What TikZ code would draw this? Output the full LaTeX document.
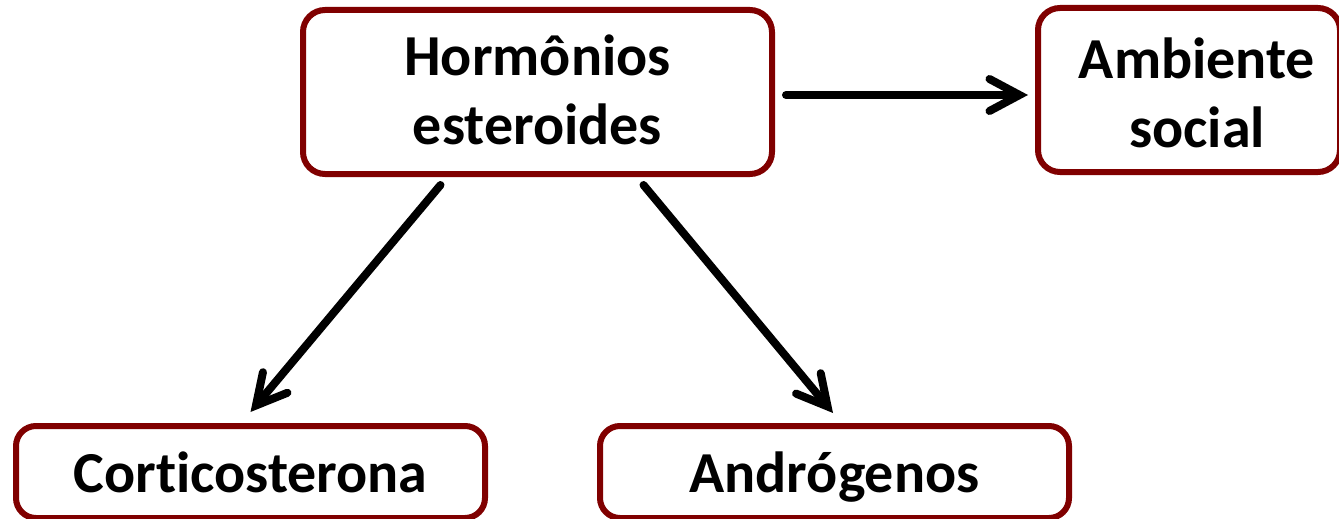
\documentclass[tikz,border=0pt]{standalone}
\usepackage{fontspec}
\setmainfont{Carlito}[Ligatures=NoCommon]
\usetikzlibrary{arrows.meta}
\definecolor{boxred}{RGB}{128,0,0}
\newcommand{\topst}[1]{\rule{0pt}{#1}}
\newcommand{\botst}[1]{\rule[-#1]{0pt}{#1}}
\tikzset{
  box/.style={draw=boxred, line width=6pt, rounded corners=22pt, fill=white,
    align=center, font=\fontsize{58}{69}\selectfont\bfseries, inner sep=0pt},
  arr/.style={draw=black, line width=8pt, line cap=round,
    -{Straight Barb[length=30pt, width=32pt, line cap=round, line join=miter]}}
}
\begin{document}
\begin{tikzpicture}[x=1pt, y=-1pt]
\useasboundingbox (0,0) rectangle (1339,519);
\node[box, minimum width=469pt, minimum height=164pt] (H) at (537.5,92)
  {\topst{50pt}Hormônios\\esteroides\botst{15pt}};
\node[box, minimum width=302pt, minimum height=164pt] (A) at (1189,90)
  {\topst{55pt}\hspace*{16pt}Ambiente\\\hspace*{16pt}social\botst{10pt}};
\node[box, minimum width=469pt, minimum height=92pt, rounded corners=20pt,
  text height=50pt, text depth=10pt] (C) at (250.5,472) {Corticosterona};
\node[box, minimum width=469pt, minimum height=92pt, rounded corners=20pt,
  text height=50pt, text depth=10pt] (D) at (834.5,472) {Andrógenos};
\draw[arr] ([xshift=11pt,yshift=-3pt]H.east) -- ([xshift=-7pt,yshift=-5pt]A.west);
\draw[arr] ([xshift=-97pt,yshift=-8pt]H.south) -- ([yshift=11pt]C.north);
\draw[arr] ([xshift=106pt,yshift=-8pt]H.south) -- ([xshift=-1.5pt,yshift=10pt]D.north);
\end{tikzpicture}
\end{document}
